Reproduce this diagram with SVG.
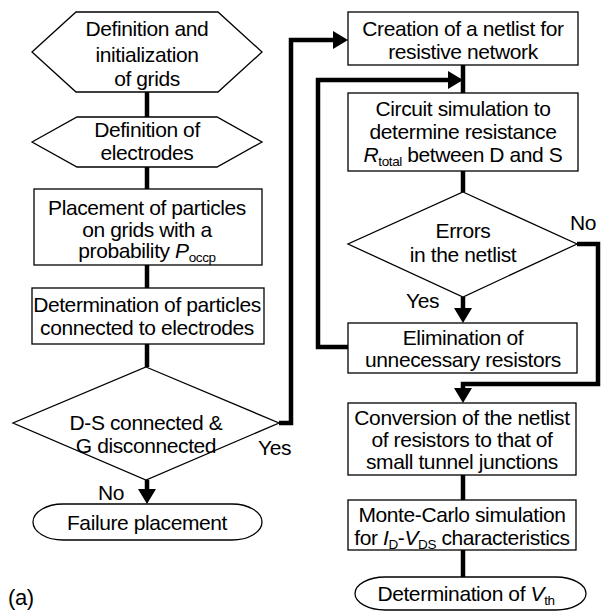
<svg xmlns="http://www.w3.org/2000/svg" width="602" height="612" viewBox="0 0 602 612">
<style>
.box{fill:#fff;stroke:#000;stroke-width:1.3}
.t{font-family:"Liberation Sans",Arial,sans-serif;font-size:21px;letter-spacing:-0.4px;fill:#000;text-anchor:middle}
.l{font-family:"Liberation Sans",Arial,sans-serif;font-size:21px;letter-spacing:-0.4px;fill:#000}
.sub{font-size:13.5px;font-style:normal}
.it{font-style:italic}
.c{fill:none;stroke:#000;stroke-width:4.5;stroke-linejoin:miter}
</style>
<defs>
<marker id="ah" markerUnits="userSpaceOnUse" markerWidth="16" markerHeight="18" refX="0" refY="9" orient="auto">
<path d="M0,0 L15,9 L0,18 z" fill="#000"/>
</marker>
</defs>
<rect width="602" height="612" fill="#fff"/>
<g id="connectors">
<line class="c" x1="147" y1="92" x2="147" y2="117"/>
<line class="c" x1="147" y1="167" x2="147" y2="189"/>
<line class="c" x1="147" y1="265" x2="147" y2="288"/>
<line class="c" x1="147" y1="344" x2="147" y2="367"/>
<path class="c" d="M147,480 V489" marker-end="url(#ah)"/>
<path class="c" d="M279,423 H291 V40 H333" marker-end="url(#ah)"/>
<line class="c" x1="463" y1="65" x2="463" y2="93"/>
<path class="c" d="M348,347 H318 V80 H448" marker-end="url(#ah)"/>
<line class="c" x1="463" y1="171" x2="463" y2="192"/>
<path class="c" d="M463,297 V308" marker-end="url(#ah)"/>
<path class="c" d="M577,244 H598 V384 H463 V388" marker-end="url(#ah)"/>
<line class="c" x1="463" y1="475" x2="463" y2="500"/>
<line class="c" x1="463" y1="550" x2="463" y2="577"/>
</g>
<g id="n1">
<polygon class="box" points="32,52 76,12 218,12 262,52 218,92 76,92"/>
<text class="t" x="147" y="36">Definition and</text>
<text class="t" x="147" y="62">initialization</text>
<text class="t" x="147" y="86">of grids</text>
</g>
<g id="n2">
<polygon class="box" points="32,142 77,117 217,117 262,142 217,167 77,167"/>
<text class="t" x="147" y="137">Definition of</text>
<text class="t" x="147" y="160">electrodes</text>
</g>
<g id="n3">
<rect class="box" x="34" y="189" width="228" height="76"/>
<text class="t" x="147" y="215">Placement of particles</text>
<text class="t" x="147" y="237">on grids with a</text>
<text class="t" x="147" y="258">probability <tspan class="it">P</tspan><tspan class="sub" dy="4">occp</tspan></text>
</g>
<g id="n4">
<rect class="box" x="32" y="288" width="232" height="56"/>
<text class="t" x="147" y="312">Determination of particles</text>
<text class="t" x="147" y="335">connected to electrodes</text>
</g>
<g id="n5">
<polygon class="box" points="146,367 279,423 146,480 13,423"/>
<text class="t" x="146" y="430">D-S connected &amp;</text>
<text class="t" x="146" y="453">G disconnected</text>
</g>
<g id="n6">
<rect class="box" x="33" y="504" width="229" height="36" rx="30" ry="18"/>
<text class="t" x="147" y="530">Failure placement</text>
</g>
<g id="n7">
<rect class="box" x="348" y="12" width="230" height="53"/>
<text class="t" x="463" y="36">Creation of a netlist for</text>
<text class="t" x="463" y="59">resistive network</text>
</g>
<g id="n8">
<rect class="box" x="348" y="93" width="230" height="78"/>
<text class="t" x="463" y="116">Circuit simulation to</text>
<text class="t" x="463" y="139">determine resistance</text>
<text class="t" x="463" y="162"><tspan class="it">R</tspan><tspan class="sub" dy="4">total</tspan><tspan dy="-4"> between D and S</tspan></text>
</g>
<g id="n9">
<polygon class="box" points="463,192 577,244 463,297 348,244"/>
<text class="t" x="463" y="238">Errors</text>
<text class="t" x="463" y="262">in the netlist</text>
</g>
<g id="n10">
<rect class="box" x="348" y="323" width="229" height="50"/>
<text class="t" x="463" y="345">Elimination of</text>
<text class="t" x="463" y="367">unnecessary resistors</text>
</g>
<g id="n11">
<rect class="box" x="348" y="403" width="228" height="72"/>
<text class="t" x="462" y="425">Conversion of the netlist</text>
<text class="t" x="462" y="447">of resistors to that of</text>
<text class="t" x="462" y="469">small tunnel junctions</text>
</g>
<g id="n12">
<rect class="box" x="348" y="500" width="228" height="50"/>
<text class="t" x="462" y="522">Monte-Carlo simulation</text>
<text class="t" x="462" y="545">for <tspan class="it">I</tspan><tspan class="sub" dy="4">D</tspan><tspan dy="-4">-</tspan><tspan class="it">V</tspan><tspan class="sub" dy="4">DS</tspan><tspan dy="-4"> characteristics</tspan></text>
</g>
<g id="n13">
<rect class="box" x="355" y="577" width="231" height="33" rx="30" ry="16.5"/>
<text class="t" x="466" y="601">Determination of <tspan class="it">V</tspan><tspan class="sub" dy="4">th</tspan></text>
</g>
<g id="labels">
<text class="l" x="258" y="455">Yes</text>
<text class="l" x="98" y="500">No</text>
<text class="l" x="570" y="230">No</text>
<text class="l" x="406" y="308">Yes</text>
<text class="l" x="8" y="605" style="font-size:22px">(a)</text>
</g>
</svg>
